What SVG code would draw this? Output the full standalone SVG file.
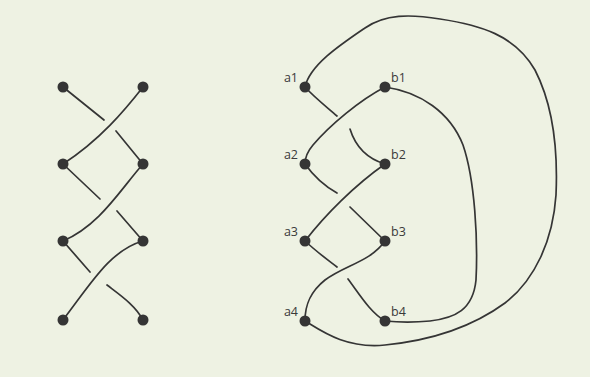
<svg xmlns="http://www.w3.org/2000/svg" width="590" height="377" viewBox="0 0 590 377">
<style>
.s{fill:none;stroke:#353535;stroke-width:1.7;stroke-linecap:round}
.d{fill:#353535}
.t{font-family:"Open Sans","DejaVu Sans",sans-serif;font-size:12.5px;fill:#3a3a3a}
</style>
<rect width="590" height="377" fill="#eef2e3"/>
<g id="connectors">
<!-- left braid -->
<path class="s" d="M143,87 C125,110 100,140 63,164"/>
<path class="s" d="M63,87 L104,120"/>
<path class="s" d="M116,131 L143,164"/>
<path class="s" d="M143,164 C120,190 100,225 63,241"/>
<path class="s" d="M63,164 L100,199"/>
<path class="s" d="M117,211 L143,241"/>
<path class="s" d="M143,241 C110,250 90,285 63,320"/>
<path class="s" d="M63,241 L90,272"/>
<path class="s" d="M107,285 C120,295 135,305 143,320"/>
<!-- right braid -->
<path class="s" d="M385,87 C360,100 330,125 313,145 C307,152 305,158 305,164"/>
<path class="s" d="M305,87 C315,98 328,108 337,116"/>
<path class="s" d="M350,129 C355,145 365,158 385,164"/>
<path class="s" d="M385,164 C355,185 325,215 305,241"/>
<path class="s" d="M305,164 C315,178 328,188 337,193"/>
<path class="s" d="M350,207 L385,241"/>
<path class="s" d="M385,241 C370,262 345,265 325,280 C310,292 305,305 305,321"/>
<path class="s" d="M305,241 C318,253 328,260 337,267"/>
<path class="s" d="M348,279 C360,295 370,312 385,321"/>
<!-- outer loop a1 to a4 -->
<path class="s" d="M305,87 C310,65 340,45 365,28 C385,14 410,14 440,19 C480,25 515,35 535,70 C553,105 558,150 556,195 C553,240 535,280 505,303 C475,325 435,340 385,345 C345,349 320,330 305,321"/>
<!-- inner loop b1 to b4 -->
<path class="s" d="M385,87 C420,92 450,112 463,145 C475,180 478,240 476,280 C473,310 455,318 430,321 C410,323 395,322 385,321"/>
</g>
<g id="nodes">
<g id="l1"><circle class="d" cx="63" cy="87" r="5.5"/></g>
<g id="r1"><circle class="d" cx="143" cy="87" r="5.5"/></g>
<g id="l2"><circle class="d" cx="63" cy="164" r="5.5"/></g>
<g id="r2"><circle class="d" cx="143" cy="164" r="5.5"/></g>
<g id="l3"><circle class="d" cx="63" cy="241" r="5.5"/></g>
<g id="r3"><circle class="d" cx="143" cy="241" r="5.5"/></g>
<g id="l4"><circle class="d" cx="63" cy="320" r="5.5"/></g>
<g id="r4"><circle class="d" cx="143" cy="320" r="5.5"/></g>
<g id="a1"><circle class="d" cx="305" cy="87" r="5.5"/><text class="t" x="298" y="82" text-anchor="end">a1</text></g>
<g id="b1"><circle class="d" cx="385" cy="87" r="5.5"/><text class="t" x="391" y="82">b1</text></g>
<g id="a2"><circle class="d" cx="305" cy="164" r="5.5"/><text class="t" x="298" y="159" text-anchor="end">a2</text></g>
<g id="b2"><circle class="d" cx="385" cy="164" r="5.5"/><text class="t" x="391" y="159">b2</text></g>
<g id="a3"><circle class="d" cx="305" cy="241" r="5.5"/><text class="t" x="298" y="236" text-anchor="end">a3</text></g>
<g id="b3"><circle class="d" cx="385" cy="241" r="5.5"/><text class="t" x="391" y="236">b3</text></g>
<g id="a4"><circle class="d" cx="305" cy="321" r="5.5"/><text class="t" x="298" y="316" text-anchor="end">a4</text></g>
<g id="b4"><circle class="d" cx="385" cy="321" r="5.5"/><text class="t" x="391" y="316">b4</text></g>
</g>
</svg>
